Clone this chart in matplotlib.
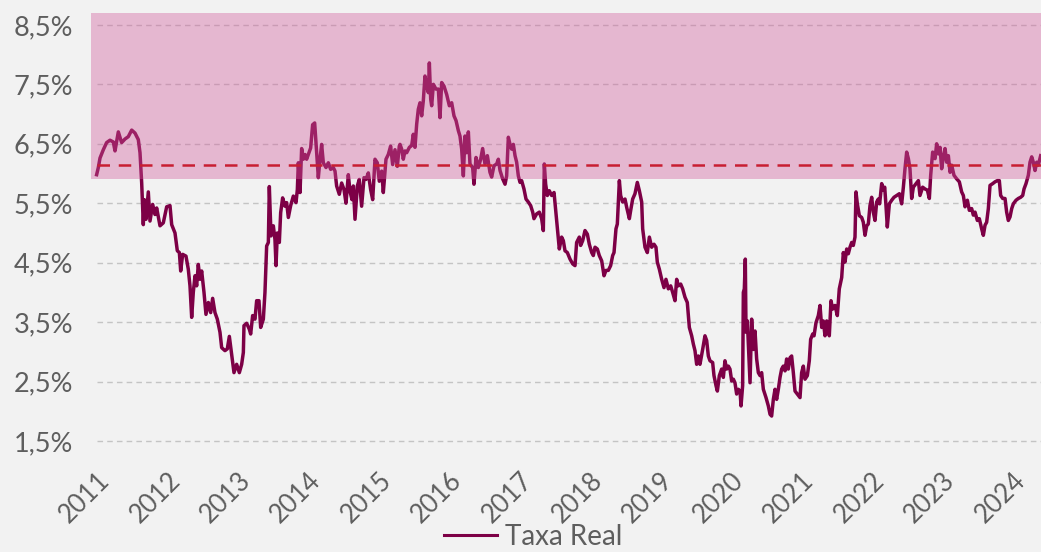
import matplotlib
matplotlib.use("Agg")
import matplotlib.pyplot as plt
from matplotlib.ticker import FuncFormatter
from matplotlib.lines import Line2D

# Taxa real (% a.a.), tempo em anos decimais
anos_2011 = [2010.995, 2011.019, 2011.043, 2011.090, 2011.137, 2011.185, 2011.232, 2011.256, 2011.303, 2011.350,
             2011.398, 2011.445, 2011.493, 2011.540, 2011.587, 2011.611, 2011.635, 2011.658, 2011.672, 2011.696,
             2011.729, 2011.753, 2011.791, 2011.824, 2011.848, 2011.895, 2011.942, 2011.990, 2012.037, 2012.061,
             2012.108, 2012.141, 2012.170, 2012.189, 2012.217, 2012.264, 2012.297, 2012.321, 2012.345, 2012.368,
             2012.392, 2012.416, 2012.439, 2012.463, 2012.487, 2012.520, 2012.548, 2012.582, 2012.615, 2012.643,
             2012.676, 2012.709, 2012.747, 2012.771, 2012.818, 2012.851, 2012.880, 2012.913, 2012.946, 2012.984,
             2013.022]
taxa_2011 = [5.98, 6.10, 6.26, 6.40, 6.52, 6.56, 6.53, 6.38, 6.70, 6.52,
             6.58, 6.62, 6.73, 6.68, 6.57, 6.35, 5.84, 5.14, 5.56, 5.23,
             5.69, 5.20, 5.48, 5.31, 5.42, 5.12, 5.17, 5.44, 5.46, 5.14,
             5.00, 4.70, 4.67, 4.36, 4.64, 4.61, 4.39, 4.11, 3.58, 4.00,
             4.28, 4.11, 4.47, 4.22, 4.36, 4.00, 3.63, 3.83, 3.66, 3.90,
             3.66, 3.55, 3.33, 3.07, 3.02, 3.05, 3.26, 2.96, 2.65, 2.79,
             2.65]

anos_2013 = [2013.055, 2013.079, 2013.088, 2013.126, 2013.164, 2013.183, 2013.211, 2013.244, 2013.268, 2013.301,
             2013.325, 2013.363, 2013.386, 2013.410, 2013.434, 2013.448, 2013.472, 2013.505, 2013.528, 2013.543,
             2013.562, 2013.590, 2013.609, 2013.637, 2013.670, 2013.694, 2013.718, 2013.751, 2013.789, 2013.827,
             2013.846, 2013.860, 2013.884, 2013.907, 2013.931, 2013.955, 2013.978, 2014.002, 2014.035, 2014.063,
             2014.092, 2014.111, 2014.144, 2014.168, 2014.191, 2014.215, 2014.253, 2014.286, 2014.319, 2014.357,
             2014.381, 2014.404, 2014.442, 2014.475, 2014.509, 2014.537, 2014.570, 2014.594, 2014.622, 2014.641,
             2014.665, 2014.698, 2014.726, 2014.759, 2014.793, 2014.821, 2014.854, 2014.887, 2014.916, 2014.949,
             2014.982, 2015.010, 2015.044, 2015.067, 2015.105, 2015.138, 2015.171, 2015.200, 2015.233, 2015.266,
             2015.294]
taxa_2013 = [2.79, 2.99, 3.44, 3.48, 3.38, 3.30, 3.61, 3.55, 3.86, 3.86,
             3.41, 3.55, 4.00, 4.78, 4.84, 5.78, 4.95, 5.12, 4.89, 4.45,
             5.00, 4.84, 5.34, 5.59, 5.45, 5.51, 5.26, 5.46, 5.62, 5.51,
             5.73, 6.18, 5.68, 6.42, 6.24, 6.32, 6.24, 6.32, 6.43, 6.82,
             6.85, 6.52, 5.93, 6.24, 6.49, 6.18, 6.10, 6.18, 6.07, 6.10,
             6.04, 5.79, 5.65, 5.84, 5.73, 5.50, 5.98, 5.70, 5.56, 5.79,
             5.23, 5.79, 5.90, 5.45, 5.93, 5.90, 6.01, 5.73, 5.56, 6.24,
             6.18, 5.87, 6.04, 5.68, 6.24, 6.32, 6.46, 6.15, 6.40, 6.12,
             6.46]

anos_2015 = [2015.304, 2015.328, 2015.351, 2015.375, 2015.399, 2015.437, 2015.470, 2015.493, 2015.517, 2015.541,
             2015.564, 2015.588, 2015.612, 2015.635, 2015.659, 2015.683, 2015.707, 2015.721, 2015.740, 2015.754,
             2015.778, 2015.815, 2015.849, 2015.872, 2015.896, 2015.929, 2015.967, 2016.005, 2016.038, 2016.071,
             2016.100, 2016.133, 2016.156, 2016.180, 2016.204, 2016.227, 2016.251, 2016.275, 2016.298, 2016.336,
             2016.355, 2016.384, 2016.417, 2016.450, 2016.478, 2016.511, 2016.545, 2016.582, 2016.606, 2016.639,
             2016.677, 2016.701, 2016.725, 2016.762, 2016.796, 2016.819, 2016.843, 2016.867, 2016.890, 2016.914,
             2016.938, 2016.961, 2016.985, 2017.009, 2017.032, 2017.065, 2017.094, 2017.127, 2017.160, 2017.189,
             2017.207, 2017.245, 2017.283, 2017.316, 2017.340, 2017.354, 2017.373, 2017.397, 2017.425, 2017.458,
             2017.492, 2017.520, 2017.539, 2017.567]
taxa_2015 = [6.49, 6.41, 6.24, 6.38, 6.35, 6.44, 6.47, 6.66, 6.44, 6.83,
             7.08, 7.19, 6.97, 7.22, 7.64, 7.47, 7.36, 7.86, 7.25, 7.14,
             7.50, 7.42, 7.42, 6.94, 7.53, 7.47, 7.33, 7.14, 7.19, 6.97,
             6.89, 6.72, 6.63, 6.41, 5.96, 6.63, 6.35, 6.70, 6.16, 6.10,
             5.82, 6.27, 6.10, 6.24, 6.42, 6.16, 6.30, 6.02, 5.94, 6.13,
             6.16, 6.24, 6.05, 5.91, 5.82, 5.96, 6.61, 6.49, 6.41, 6.49,
             6.30, 6.19, 5.96, 5.85, 5.88, 5.74, 5.57, 5.52, 5.46, 5.35,
             5.24, 5.32, 5.35, 5.24, 5.04, 6.16, 5.82, 5.63, 5.71, 5.63,
             5.68, 5.32, 5.07, 4.73]

anos_2017 = [2017.600, 2017.624, 2017.648, 2017.681, 2017.719, 2017.757, 2017.790, 2017.813, 2017.851, 2017.870,
             2017.899, 2017.932, 2017.965, 2017.993, 2018.027, 2018.050, 2018.074, 2018.107, 2018.135, 2018.169,
             2018.202, 2018.230, 2018.263, 2018.296, 2018.325, 2018.344, 2018.372, 2018.391, 2018.420, 2018.438,
             2018.467, 2018.500, 2018.524, 2018.562, 2018.581, 2018.609, 2018.642, 2018.675, 2018.704, 2018.737,
             2018.751, 2018.784, 2018.817, 2018.846, 2018.879, 2018.912, 2018.940, 2018.959, 2018.988, 2019.021,
             2019.054, 2019.082, 2019.116, 2019.149, 2019.177, 2019.210, 2019.234, 2019.258, 2019.291, 2019.319,
             2019.352, 2019.385, 2019.414, 2019.447, 2019.471, 2019.494, 2019.518, 2019.542, 2019.565, 2019.603,
             2019.636, 2019.660, 2019.684, 2019.707, 2019.745, 2019.764, 2019.793, 2019.812, 2019.840]
taxa_2017 = [4.93, 4.87, 4.70, 4.67, 4.56, 4.48, 4.45, 4.84, 4.93, 4.79,
             4.87, 5.04, 4.98, 4.81, 4.67, 4.62, 4.76, 4.73, 4.62, 4.53,
             4.28, 4.37, 4.37, 4.45, 4.62, 4.67, 5.07, 5.15, 5.88, 5.63,
             5.52, 5.57, 5.43, 5.24, 5.38, 5.57, 5.66, 5.85, 5.71, 5.52,
             5.07, 4.76, 4.67, 4.93, 4.76, 4.81, 4.76, 4.51, 4.39, 4.22,
             4.08, 4.22, 4.06, 4.11, 4.00, 3.86, 4.22, 4.11, 4.14, 4.06,
             3.92, 3.83, 3.41, 3.27, 3.13, 3.02, 2.79, 2.93, 2.79, 3.04,
             3.27, 3.19, 2.93, 2.85, 2.82, 2.60, 2.43, 2.34, 2.60]

anos_2020 = [2019.873, 2019.897, 2019.920, 2019.944, 2019.968, 2019.991, 2020.015, 2020.039, 2020.062, 2020.086,
             2020.110, 2020.134, 2020.148, 2020.171, 2020.181, 2020.195, 2020.209, 2020.219, 2020.238, 2020.257,
             2020.276, 2020.299, 2020.323, 2020.347, 2020.370, 2020.394, 2020.418, 2020.441, 2020.465, 2020.503,
             2020.536, 2020.560, 2020.583, 2020.607, 2020.631, 2020.654, 2020.678, 2020.702, 2020.725, 2020.749,
             2020.773, 2020.796, 2020.820, 2020.844, 2020.867, 2020.891, 2020.915, 2020.948, 2020.986, 2021.009,
             2021.033, 2021.057, 2021.090, 2021.118, 2021.137, 2021.166, 2021.185, 2021.213, 2021.246, 2021.270,
             2021.294, 2021.317, 2021.341, 2021.365, 2021.402, 2021.426, 2021.450, 2021.483, 2021.516, 2021.544,
             2021.578, 2021.601, 2021.625, 2021.649, 2021.672, 2021.696, 2021.720, 2021.743, 2021.767, 2021.781,
             2021.800, 2021.829, 2021.862, 2021.885, 2021.909, 2021.933, 2021.956, 2021.980, 2022.004, 2022.027,
             2022.051, 2022.075, 2022.098, 2022.117]
taxa_2020 = [2.71, 2.57, 2.85, 2.71, 2.76, 2.71, 2.51, 2.54, 2.48, 2.29,
             2.37, 2.34, 2.09, 2.43, 4.00, 4.06, 4.56, 3.33, 3.52, 2.99,
             2.48, 3.55, 3.04, 3.35, 2.88, 2.65, 2.60, 2.65, 2.37, 2.23,
             2.09, 1.95, 1.92, 2.20, 2.37, 2.20, 2.37, 2.57, 2.71, 2.76,
             2.68, 2.88, 2.71, 2.90, 2.93, 2.65, 2.34, 2.29, 2.23, 2.65,
             2.76, 2.54, 2.60, 2.85, 3.21, 3.30, 3.27, 3.49, 3.61, 3.78,
             3.41, 3.52, 3.27, 3.52, 3.27, 3.86, 3.72, 3.78, 3.61, 4.06,
             4.25, 4.67, 4.51, 4.73, 4.65, 4.76, 4.84, 4.79, 4.93, 5.69,
             5.49, 5.29, 5.26, 5.18, 4.96, 5.12, 5.15, 5.46, 5.60, 5.35,
             5.21, 5.52, 5.57, 5.49]

anos_2022 = [2022.146, 2022.170, 2022.189, 2022.207, 2022.226, 2022.255, 2022.288, 2022.321, 2022.359, 2022.397,
             2022.430, 2022.454, 2022.477, 2022.501, 2022.525, 2022.548, 2022.572, 2022.596, 2022.634, 2022.667,
             2022.690, 2022.728, 2022.761, 2022.795, 2022.823, 2022.842, 2022.870, 2022.904, 2022.927, 2022.951,
             2022.975, 2022.998, 2023.022, 2023.046, 2023.069, 2023.093, 2023.117, 2023.140, 2023.173, 2023.211,
             2023.249, 2023.282, 2023.306, 2023.330, 2023.363, 2023.391, 2023.424, 2023.448, 2023.472, 2023.505,
             2023.533, 2023.566, 2023.590, 2023.614, 2023.637, 2023.661, 2023.685, 2023.723, 2023.756, 2023.789,
             2023.817, 2023.836, 2023.865, 2023.898, 2023.921, 2023.945, 2023.969, 2023.993, 2024.016, 2024.054,
             2024.087, 2024.120, 2024.149, 2024.168, 2024.196, 2024.229, 2024.253, 2024.277, 2024.300, 2024.324,
             2024.348, 2024.371, 2024.404]
taxa_2022 = [5.83, 5.72, 5.77, 5.46, 5.10, 5.49, 5.55, 5.60, 5.63, 5.66,
             5.49, 5.77, 6.08, 6.36, 6.25, 6.08, 5.58, 5.77, 5.83, 5.88,
             5.63, 5.77, 5.74, 5.72, 5.58, 5.97, 6.36, 6.25, 6.50, 6.33,
             6.44, 6.08, 6.28, 6.42, 6.19, 6.30, 6.02, 6.14, 5.97, 5.91,
             5.86, 5.69, 5.63, 5.44, 5.55, 5.38, 5.41, 5.30, 5.35, 5.21,
             5.24, 5.07, 4.96, 5.13, 5.18, 5.41, 5.80, 5.83, 5.86, 5.88,
             5.88, 5.63, 5.58, 5.58, 5.35, 5.21, 5.27, 5.41, 5.49, 5.55,
             5.58, 5.60, 5.63, 5.74, 5.83, 5.97, 6.19, 6.28, 6.19, 6.05,
             6.19, 6.14, 6.30]

faixa_min = 5.91   # faixa sombreada
faixa_max = 8.70
media = 6.15       # linha tracejada
anos_ticks = list(range(2011, 2025))
y_ticks = [1.5, 2.5, 3.5, 4.5, 5.5, 6.5, 7.5, 8.5]

anos = anos_2011 + anos_2013 + anos_2015 + anos_2017 + anos_2020 + anos_2022
taxa = taxa_2011 + taxa_2013 + taxa_2015 + taxa_2017 + taxa_2020 + taxa_2022

plt.rcParams['font.family'] = ['Lato', 'DejaVu Sans']
bg = '#F2F2F2'
cor_linha = '#7D0046'
cor_texto = '#5E5E5E'

fig = plt.figure(figsize=(10.41, 5.52), dpi=100, facecolor=bg)
ax = fig.add_axes([91 / 1041, 1 - 441 / 552, 950 / 1041, 428 / 552])
ax.set_facecolor(bg)

x0, x1 = 2010.915, 2024.409
ax.set_xlim(x0, x1)
ax.set_ylim(1.5, faixa_max)

# grade tracejada
ax.hlines(y_ticks, anos[0], x1, colors='#C4C4C4', linestyles=(0, (4, 3)),
          linewidth=1.0, zorder=1, clip_on=False)

ax.plot(anos, taxa, color=cor_linha, linewidth=2.5, zorder=2)

ax.axhspan(faixa_min, faixa_max, color='#D2599A', alpha=0.38, lw=0, zorder=3)

ax.hlines(media, anos[0], x1, colors='#C81E32', linestyles=(0, (5, 3.5)),
          linewidth=1.8, zorder=4)

for s in ax.spines.values():
    s.set_visible(False)

ax.set_yticks(y_ticks)
ax.yaxis.set_major_formatter(FuncFormatter(lambda v, p: f"{v:.1f}".replace('.', ',') + '%'))
ax.set_xticks(anos_ticks)
ax.set_xticklabels([str(a) for a in anos_ticks], rotation=45, ha='right',
                   rotation_mode='anchor')
ax.tick_params(axis='both', length=0, labelcolor=cor_texto)
ax.tick_params(axis='y', pad=13, labelsize=19.5)
ax.tick_params(axis='x', pad=19, labelsize=18.5)

handle = Line2D([0], [0], color=cor_linha, linewidth=2.2)
leg = fig.legend([handle], ['Taxa Real'], loc='center', bbox_to_anchor=(0.512, 0.027),
                 frameon=False, fontsize=20, handlelength=1.9, handletextpad=0.3)
for t in leg.get_texts():
    t.set_color(cor_texto)

fig.savefig('out.png', dpi=100, facecolor=bg)
